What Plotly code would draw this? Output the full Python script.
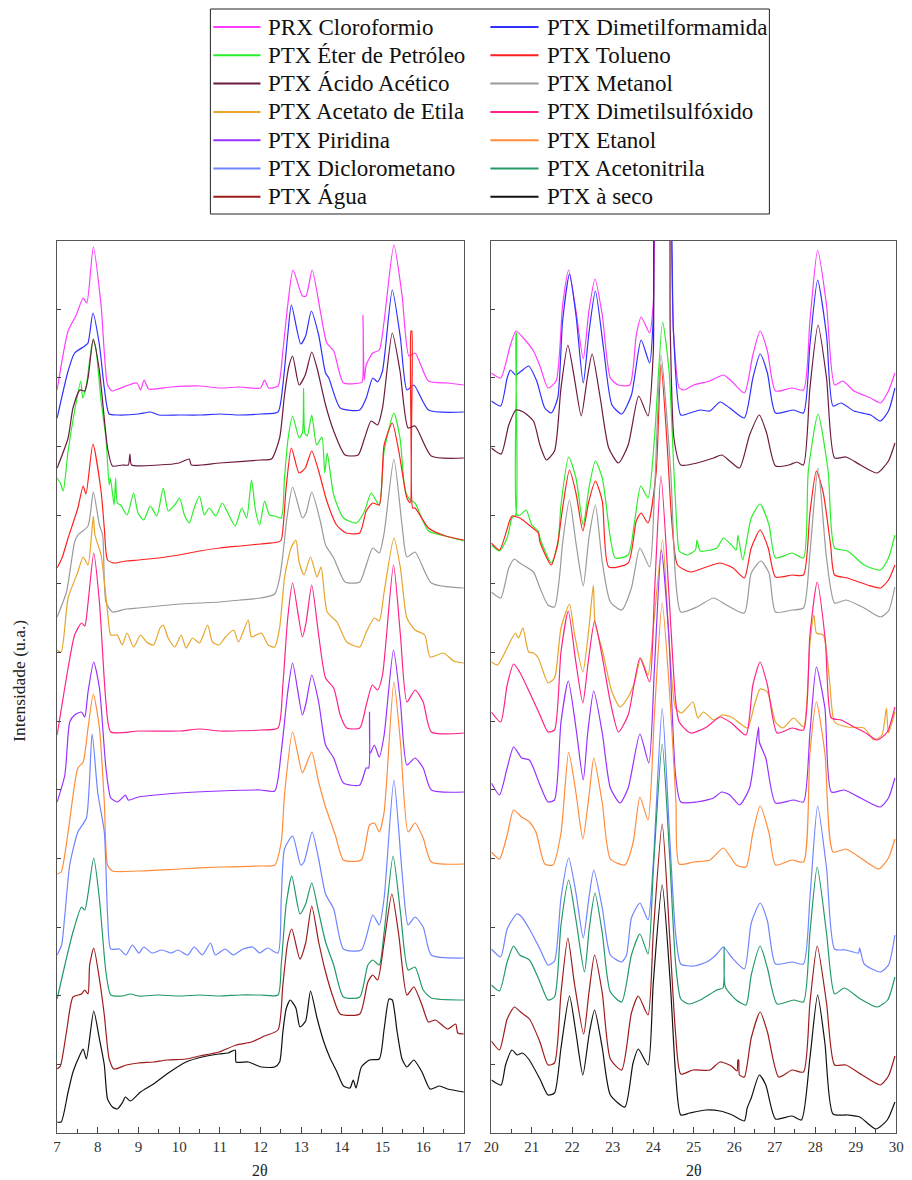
import plotly.graph_objects as go

# ---------------- series (legend order, two columns row-major) ----------------
names = ["PRX Cloroformio", "PTX Dimetilformamida",
         "PTX Éter de Petróleo", "PTX Tolueno",
         "PTX Ácido Acético", "PTX Metanol",
         "PTX Acetato de Etila", "PTX Dimetilsulfóxido",
         "PTX Piridina", "PTX Etanol",
         "PTX Diclorometano", "PTX Acetonitrila",
         "PTX Água", "PTX à seco"]
colors = ["#ff3cff", "#3030ff",
          "#2aee2a", "#ff2020",
          "#6e1a40", "#9a9a9a",
          "#e6a52a", "#ff2288",
          "#9930ff", "#ff8c3a",
          "#6f84ff", "#229966",
          "#9e1b1b", "#111111"]

# ---------------- left panel (2θ 7–17): (2θ, intensity u.a., stacked) ----------------
cloroformio_L = [(7.0,743),(7.27,802),(7.47,818),(7.64,835),(7.73,830),(7.89,886),(8.08,828),(8.24,748),(8.35,742),(8.5,744),(8.96,750),(9.05,743),(9.14,753),(9.25,744),(9.8,746),(10.5,747),(11.0,745),(11.5,746),(12.0,745),(12.1,753),(12.2,745),(12.43,747),(12.55,782),(12.67,828),(12.8,863),(13.03,837),(13.12,837),(13.27,863),(13.47,822),(13.63,790),(13.8,782),(14.04,750),(14.44,750),(14.5,751),(14.52,818),(14.55,753),(14.6,768),(14.76,780),(14.92,783),(15.04,812),(15.28,888),(15.48,838),(15.65,777),(15.8,780),(16.13,752),(16.6,750),(17.0,748)]
dimetilformamida_L = [(7.0,715),(7.27,762),(7.43,780),(7.68,787),(7.76,790),(7.88,820),(8.04,788),(8.16,745),(8.28,719),(8.5,718),(9.0,719),(9.3,721),(9.5,718),(10.0,718),(10.5,718),(11.0,719),(11.5,718),(12.0,719),(12.43,721),(12.55,748),(12.67,798),(12.76,828),(12.99,789),(13.11,797),(13.25,822),(13.43,798),(13.6,760),(13.68,755),(13.96,725),(14.44,723),(14.6,735),(14.76,755),(14.88,751),(15.0,762),(15.24,843),(15.44,795),(15.6,743),(15.77,748),(16.13,723),(17.0,721)]
eter_L = [(7.0,655),(7.08,650),(7.15,642),(7.27,682),(7.43,722),(7.58,752),(7.63,735),(7.72,748),(7.88,793),(7.95,785),(8.08,732),(8.2,695),(8.28,648),(8.31,655),(8.4,628),(8.44,655),(8.48,630),(8.56,628),(8.72,618),(8.88,640),(8.99,620),(9.13,613),(9.29,627),(9.45,617),(9.61,645),(9.73,622),(9.89,628),(10.01,635),(10.13,618),(10.25,610),(10.37,625),(10.5,637),(10.62,618),(10.74,625),(10.9,617),(11.06,630),(11.22,618),(11.38,607),(11.54,625),(11.66,615),(11.78,653),(11.88,622),(11.98,608),(12.1,632),(12.22,618),(12.35,617),(12.51,615),(12.59,655),(12.68,695),(12.79,717),(12.95,695),(13.03,700),(13.06,745),(13.09,700),(13.15,697),(13.26,718),(13.38,688),(13.51,696),(13.58,660),(13.64,680),(13.8,638),(14.04,615),(14.36,610),(14.56,622),(14.72,640),(14.92,628),(15.04,682),(15.28,720),(15.43,695),(15.56,642),(15.68,633),(15.8,630),(16.13,602),(16.55,597),(17.0,592)]
tolueno_L = [(7.0,565),(7.12,575),(7.27,595),(7.51,625),(7.64,647),(7.71,639),(7.88,689),(8.08,642),(8.16,605),(8.24,573),(8.4,570),(8.7,572),(9.0,573),(9.5,575),(10.0,578),(10.5,582),(11.0,585),(11.5,587),(12.0,589),(12.43,591),(12.51,593),(12.63,645),(12.76,685),(12.95,660),(13.1,665),(13.26,682),(13.43,662),(13.63,632),(13.87,608),(14.1,600),(14.44,600),(14.6,622),(14.76,630),(14.92,628),(15.04,688),(15.24,710),(15.4,682),(15.6,635),(15.68,630),(15.7,802),(15.72,802),(15.74,625),(15.8,625),(16.13,605),(16.55,597),(17.0,593)]
acetico_L = [(7.0,665),(7.27,695),(7.39,725),(7.56,743),(7.68,742),(7.76,755),(7.89,794),(8.04,762),(8.24,685),(8.36,667),(8.6,668),(8.75,668),(8.79,679),(8.83,668),(9.5,668),(10.0,670),(10.25,674),(10.3,668),(11.0,670),(12.0,673),(12.27,674),(12.47,695),(12.59,738),(12.7,767),(12.79,777),(12.95,748),(13.1,758),(13.26,781),(13.39,765),(13.6,728),(13.8,702),(14.08,678),(14.4,678),(14.56,695),(14.72,712),(14.88,708),(15.0,725),(15.24,800),(15.43,762),(15.63,705),(15.8,707),(16.2,677),(17.0,675)]
metanol_L = [(7.0,516),(7.23,541),(7.43,591),(7.51,598),(7.76,607),(7.89,641),(8.04,608),(8.12,598),(8.2,531),(8.36,521),(8.7,524),(9.0,525),(9.5,527),(10.0,529),(10.5,530),(11.0,531),(11.5,533),(12.0,535),(12.35,539),(12.47,555),(12.55,578),(12.65,615),(12.79,646),(13.03,615),(13.12,620),(13.26,641),(13.47,612),(13.6,588),(13.8,575),(14.08,551),(14.44,551),(14.6,568),(14.76,585),(14.92,580),(15.04,600),(15.28,674),(15.48,608),(15.6,576),(15.8,581),(16.2,550),(17.0,545)]
acetato_L = [(7.0,483),(7.1,481),(7.27,535),(7.51,561),(7.64,576),(7.76,568),(7.85,600),(7.89,617),(7.93,598),(8.08,578),(8.24,521),(8.32,498),(8.48,498),(8.6,488),(8.72,500),(8.88,486),(9.05,498),(9.2,491),(9.37,488),(9.53,505),(9.61,508),(9.73,495),(9.89,486),(10.05,498),(10.17,485),(10.33,495),(10.5,490),(10.7,508),(10.82,491),(10.98,488),(11.14,496),(11.34,503),(11.46,491),(11.7,513),(11.78,496),(12.02,500),(12.19,488),(12.35,486),(12.47,505),(12.59,555),(12.75,585),(12.87,593),(12.95,571),(13.07,558),(13.23,576),(13.39,556),(13.49,566),(13.64,521),(13.88,511),(14.12,491),(14.44,486),(14.6,501),(14.8,515),(14.92,512),(15.04,541),(15.28,595),(15.44,565),(15.6,515),(15.8,503),(16.04,498),(16.17,476),(16.5,480),(16.75,472),(17.0,470)]
dmso_L = [(7.0,398),(7.27,465),(7.43,498),(7.6,510),(7.68,507),(7.76,530),(7.9,580),(8.04,531),(8.2,431),(8.32,401),(9.0,402),(10.0,402),(10.5,404),(11.0,402),(12.0,403),(12.43,405),(12.55,448),(12.67,515),(12.79,550),(13.03,496),(13.12,510),(13.26,548),(13.43,498),(13.6,455),(13.8,445),(13.96,418),(14.12,405),(14.44,405),(14.6,428),(14.75,448),(14.88,443),(15.0,458),(15.27,568),(15.44,498),(15.6,431),(15.8,443),(16.0,431),(16.2,401),(17.0,400)]
piridina_L = [(7.0,331),(7.19,358),(7.31,411),(7.43,418),(7.6,421),(7.68,416),(7.76,441),(7.9,471),(8.04,445),(8.2,365),(8.32,335),(8.48,331),(8.6,335),(8.68,338),(8.75,333),(9.0,336),(10.0,340),(11.0,342),(12.0,343),(12.35,342),(12.51,381),(12.67,441),(12.79,470),(13.03,418),(13.12,430),(13.26,458),(13.43,431),(13.6,388),(13.8,375),(14.04,350),(14.44,348),(14.6,365),(14.66,365),(14.68,421),(14.7,380),(14.8,388),(14.92,376),(15.04,398),(15.27,483),(15.44,431),(15.6,368),(15.8,375),(16.0,365),(16.2,343),(17.0,341)]
etanol_L = [(7.0,259),(7.1,261),(7.27,301),(7.51,365),(7.64,371),(7.76,405),(7.89,439),(8.04,405),(8.16,331),(8.24,268),(8.36,262),(9.0,262),(10.0,264),(11.0,266),(12.0,267),(12.35,268),(12.51,291),(12.59,338),(12.79,401),(13.03,360),(13.12,368),(13.26,381),(13.43,351),(13.6,326),(13.84,298),(14.04,273),(14.48,273),(14.68,308),(14.8,310),(14.92,301),(15.04,321),(15.28,451),(15.44,391),(15.63,301),(15.8,310),(16.0,295),(16.2,271),(17.0,269)]
dicloro_L = [(7.0,178),(7.11,188),(7.19,218),(7.31,268),(7.51,301),(7.72,315),(7.86,399),(8.0,340),(8.16,301),(8.24,218),(8.32,184),(8.53,184),(8.69,178),(8.85,188),(9.01,180),(9.13,186),(9.33,180),(9.57,183),(9.81,180),(9.97,183),(10.21,178),(10.37,186),(10.57,178),(10.77,190),(10.89,178),(11.13,184),(11.33,178),(11.57,184),(11.81,186),(11.98,180),(12.17,185),(12.43,180),(12.51,234),(12.59,284),(12.79,297),(12.99,268),(13.07,271),(13.27,301),(13.43,274),(13.6,239),(13.8,224),(14.04,184),(14.48,183),(14.76,218),(14.92,208),(15.04,235),(15.28,353),(15.48,261),(15.63,208),(15.8,216),(16.0,206),(16.2,178),(17.0,175)]
acetonitrila_L = [(7.0,134),(7.19,168),(7.39,201),(7.6,226),(7.68,223),(7.76,239),(7.9,275),(8.04,234),(8.2,161),(8.32,138),(8.6,137),(8.8,139),(9.0,137),(9.5,138),(10.0,137),(10.5,138),(11.0,137),(11.5,138),(12.0,138),(12.43,138),(12.51,168),(12.63,228),(12.77,257),(12.97,219),(13.11,229),(13.26,250),(13.43,221),(13.6,191),(13.8,168),(14.04,136),(14.44,136),(14.64,168),(14.76,173),(14.92,168),(15.04,201),(15.26,277),(15.44,221),(15.63,163),(15.8,166),(16.0,143),(16.2,135),(17.0,133)]
agua_L = [(7.0,64),(7.08,67),(7.23,101),(7.39,136),(7.6,139),(7.68,143),(7.76,139),(7.8,168),(7.9,185),(8.04,154),(8.16,118),(8.28,74),(8.4,64),(8.7,68),(9.0,70),(9.37,71),(9.7,73),(10.17,74),(10.5,77),(10.98,81),(11.4,88),(11.78,91),(12.1,97),(12.43,103),(12.55,148),(12.67,191),(12.77,204),(12.97,174),(13.11,190),(13.26,227),(13.43,191),(13.6,161),(13.8,134),(13.96,119),(14.44,119),(14.64,151),(14.76,158),(14.88,153),(15.04,191),(15.23,239),(15.4,198),(15.6,138),(15.77,146),(15.97,128),(16.13,111),(16.3,113),(16.6,104),(16.8,109),(16.85,100),(17.0,99)]
seco_L = [(7.0,11),(7.1,11),(7.27,41),(7.39,61),(7.56,78),(7.64,84),(7.72,74),(7.9,122),(8.04,94),(8.16,68),(8.24,34),(8.36,26),(8.48,24),(8.6,30),(8.68,36),(8.8,32),(9.05,41),(9.37,49),(9.77,61),(10.17,71),(10.57,76),(10.98,79),(11.2,80),(11.38,83),(11.4,71),(11.7,71),(12.02,66),(12.35,66),(12.47,71),(12.55,101),(12.63,124),(12.73,133),(12.87,125),(12.97,106),(13.11,112),(13.23,142),(13.39,115),(13.55,92),(13.71,75),(13.87,62),(14.04,47),(14.2,45),(14.28,53),(14.35,45),(14.48,66),(14.68,73),(14.92,74),(15.04,104),(15.16,134),(15.24,133),(15.36,101),(15.48,74),(15.6,66),(15.77,73),(15.97,61),(16.17,44),(16.4,47),(16.6,44),(17.0,41)]

# ---------------- right panel (2θ 20–30) ----------------
cloroformio_R = [(20.0,760),(20.23,755),(20.47,788),(20.61,802),(20.79,795),(21.04,782),(21.2,767),(21.4,745),(21.6,752),(21.76,828),(21.91,863),(22.09,822),(22.27,774),(22.41,822),(22.56,854),(22.74,818),(22.94,755),(23.14,748),(23.42,748),(23.58,798),(23.7,816),(23.91,800),(24.0,829),(24.15,1000),(24.3,1000),(24.5,800),(24.64,745),(24.76,743),(25.0,748),(25.4,752),(25.73,758),(25.93,752),(26.25,740),(26.46,778),(26.64,802),(26.82,782),(27.02,742),(27.43,745),(27.71,743),(27.87,812),(28.06,883),(28.28,828),(28.48,748),(28.68,752),(28.96,742),(29.37,735),(29.61,730),(29.81,742),(29.97,760)]
dimetilformamida_R = [(20.0,732),(20.23,727),(20.39,755),(20.47,763),(20.6,758),(20.74,762),(20.92,767),(21.12,752),(21.32,725),(21.48,720),(21.64,735),(21.76,812),(21.93,859),(22.09,818),(22.27,750),(22.41,800),(22.57,842),(22.77,785),(22.98,728),(23.22,719),(23.46,738),(23.7,793),(23.91,770),(24.0,815),(24.12,1000),(24.32,1000),(24.5,800),(24.68,718),(24.9,720),(25.16,723),(25.4,722),(25.65,731),(25.89,725),(26.25,715),(26.46,755),(26.64,779),(26.82,760),(27.02,720),(27.47,723),(27.71,720),(27.87,788),(28.06,853),(28.28,798),(28.44,727),(28.64,730),(28.96,722),(29.37,718),(29.61,712),(29.81,722),(29.97,745)]
eter_R = [(20.0,588),(20.2,582),(20.39,595),(20.51,615),(20.6,618),(20.61,800),(20.62,800),(20.63,618),(20.71,618),(20.86,623),(21.0,608),(21.16,602),(21.2,595),(21.48,570),(21.64,588),(21.72,628),(21.91,676),(22.09,655),(22.27,608),(22.41,645),(22.57,672),(22.74,655),(22.94,595),(23.06,575),(23.38,578),(23.54,612),(23.69,647),(23.87,635),(24.03,695),(24.23,811),(24.39,762),(24.51,662),(24.6,595),(24.64,582),(24.84,578),(25.04,583),(25.08,593),(25.16,582),(25.57,585),(25.73,595),(25.93,588),(26.05,583),(26.09,598),(26.21,573),(26.42,615),(26.64,629),(26.86,608),(27.02,575),(27.43,580),(27.71,575),(27.83,662),(28.07,719),(28.32,662),(28.48,585),(28.8,582),(29.21,568),(29.61,563),(29.81,575),(29.97,598)]
tolueno_R = [(20.0,590),(20.2,583),(20.45,612),(20.51,617),(20.7,615),(20.96,607),(21.16,600),(21.2,591),(21.48,568),(21.64,590),(21.76,625),(21.93,663),(22.09,640),(22.26,602),(22.41,632),(22.57,652),(22.74,632),(22.9,566),(23.38,570),(23.58,612),(23.7,620),(23.87,610),(24.07,660),(24.19,769),(24.34,690),(24.46,610),(24.6,568),(24.92,561),(25.24,565),(25.65,570),(25.97,565),(26.25,555),(26.42,585),(26.64,603),(26.84,585),(27.02,556),(27.43,558),(27.71,558),(27.87,620),(28.03,662),(28.2,640),(28.38,588),(28.48,558),(28.8,555),(29.29,548),(29.61,545),(29.81,553),(29.97,568)]
acetico_R = [(20.0,685),(20.24,679),(20.43,708),(20.61,723),(20.79,721),(21.04,712),(21.2,688),(21.36,673),(21.56,682),(21.72,745),(21.89,788),(22.05,755),(22.22,717),(22.37,755),(22.49,779),(22.69,735),(22.9,685),(23.14,670),(23.38,688),(23.64,737),(23.87,717),(24.0,780),(24.12,1000),(24.3,1000),(24.42,800),(24.51,695),(24.68,668),(25.08,670),(25.49,675),(25.69,678),(25.89,672),(26.13,665),(26.38,698),(26.62,718),(26.8,700),(27.02,667),(27.35,668),(27.55,671),(27.71,668),(27.87,745),(28.07,808),(28.28,755),(28.48,675),(28.76,676),(29.12,668),(29.53,660),(29.81,672),(29.97,690)]
metanol_R = [(20.0,541),(20.23,535),(20.43,565),(20.57,574),(20.7,570),(21.04,561),(21.2,545),(21.4,528),(21.56,526),(21.68,555),(21.76,590),(21.93,633),(22.09,590),(22.27,547),(22.41,595),(22.57,628),(22.74,571),(22.94,531),(23.22,523),(23.46,545),(23.67,585),(23.91,566),(24.03,640),(24.19,778),(24.43,662),(24.55,555),(24.68,521),(25.08,526),(25.49,535),(25.81,528),(26.25,520),(26.42,560),(26.66,572),(26.86,560),(27.02,521),(27.43,523),(27.71,525),(27.87,580),(28.07,665),(28.28,575),(28.48,530),(28.76,533),(29.21,525),(29.61,516),(29.81,522),(29.97,546)]
acetato_R = [(20.0,471),(20.15,468),(20.39,485),(20.59,500),(20.67,495),(20.78,505),(20.92,481),(21.04,480),(21.16,475),(21.4,450),(21.56,455),(21.72,505),(21.93,529),(22.05,500),(22.26,461),(22.41,505),(22.52,548),(22.56,510),(22.74,483),(22.98,441),(23.18,426),(23.38,436),(23.54,451),(23.69,475),(23.87,458),(24.0,505),(24.23,593),(24.38,500),(24.55,425),(24.7,420),(24.98,431),(25.1,415),(25.24,421),(25.49,413),(25.7,418),(25.93,416),(26.13,410),(26.33,405),(26.5,428),(26.64,444),(26.82,441),(27.02,411),(27.2,405),(27.47,415),(27.71,406),(27.87,490),(27.97,518),(28.03,500),(28.2,498),(28.36,450),(28.48,411),(28.8,406),(29.21,405),(29.45,393),(29.65,398),(29.76,425),(29.81,400),(29.97,421)]
dmso_R = [(20.0,421),(20.23,411),(20.39,448),(20.55,469),(20.7,461),(20.94,441),(21.2,418),(21.4,401),(21.56,403),(21.72,481),(21.9,522),(22.09,470),(22.26,430),(22.39,470),(22.55,512),(22.74,476),(22.94,431),(23.14,401),(23.38,418),(23.67,475),(23.91,451),(24.03,540),(24.19,657),(24.4,530),(24.55,433),(24.64,411),(24.92,400),(25.32,406),(25.65,416),(25.93,410),(26.29,398),(26.46,448),(26.64,471),(26.82,448),(27.06,400),(27.43,405),(27.71,403),(27.87,498),(28.05,551),(28.25,493),(28.4,415),(28.64,413),(28.96,406),(29.21,401),(29.53,393),(29.78,401),(29.97,426)]
piridina_R = [(20.0,350),(20.2,338),(20.39,365),(20.55,386),(20.75,375),(20.94,373),(21.2,348),(21.4,331),(21.56,333),(21.72,411),(21.9,452),(22.09,405),(22.27,353),(22.38,400),(22.53,442),(22.74,400),(22.94,345),(23.18,330),(23.38,345),(23.67,399),(23.89,370),(24.03,466),(24.2,583),(24.38,500),(24.55,358),(24.68,331),(25.08,331),(25.49,335),(25.69,341),(25.89,338),(26.13,328),(26.38,345),(26.6,406),(26.62,391),(26.78,375),(27.02,330),(27.47,333),(27.71,331),(27.87,400),(28.03,466),(28.24,425),(28.4,341),(28.72,343),(29.12,335),(29.61,326),(29.81,335),(29.97,355)]
etanol_R = [(20.0,281),(20.2,274),(20.39,298),(20.55,323),(20.75,316),(20.94,311),(21.1,301),(21.32,269),(21.52,268),(21.72,300),(21.91,381),(22.09,340),(22.26,294),(22.42,340),(22.53,375),(22.74,330),(22.94,274),(23.3,268),(23.5,290),(23.67,336),(23.87,313),(24.03,420),(24.22,530),(24.42,430),(24.56,330),(24.64,269),(25.0,271),(25.4,273),(25.73,285),(26.05,268),(26.29,266),(26.46,300),(26.64,327),(26.86,300),(27.02,268),(27.43,273),(27.71,271),(27.87,380),(28.03,431),(28.24,380),(28.44,281),(28.76,284),(29.16,274),(29.57,264),(29.81,275),(29.97,294)]
dicloro_R = [(20.0,184),(20.23,176),(20.39,204),(20.63,219),(20.75,216),(20.94,204),(21.2,184),(21.4,168),(21.56,172),(21.72,235),(21.91,275),(22.09,240),(22.27,195),(22.41,235),(22.53,263),(22.74,225),(22.94,178),(23.22,171),(23.34,178),(23.46,215),(23.67,230),(23.87,213),(24.0,270),(24.22,425),(24.4,300),(24.55,200),(24.68,169),(25.0,167),(25.32,171),(25.55,178),(25.73,186),(25.93,176),(26.25,164),(26.42,210),(26.64,230),(26.82,212),(27.02,169),(27.43,171),(27.71,169),(27.87,235),(28.06,327),(28.28,265),(28.48,184),(28.76,183),(29.07,180),(29.1,185),(29.21,169),(29.61,161),(29.81,168),(29.97,198)]
acetonitrila_R = [(20.0,148),(20.2,142),(20.39,171),(20.55,187),(20.7,178),(20.94,173),(21.2,151),(21.4,133),(21.56,136),(21.72,208),(21.91,253),(22.09,213),(22.3,161),(22.42,205),(22.56,240),(22.74,200),(22.94,141),(23.22,131),(23.46,178),(23.67,199),(23.87,179),(24.0,262),(24.22,389),(24.4,280),(24.55,170),(24.68,134),(24.88,129),(25.16,133),(25.57,143),(25.72,145),(25.75,186),(25.78,146),(26.05,133),(26.29,128),(26.42,158),(26.64,187),(26.82,165),(27.06,129),(27.47,133),(27.71,131),(27.87,200),(28.05,266),(28.28,200),(28.48,139),(28.72,145),(29.12,134),(29.53,126),(29.79,133),(29.97,156)]
agua_R = [(20.0,92),(20.2,83),(20.39,114),(20.57,126),(20.72,121),(20.94,114),(21.2,91),(21.4,68),(21.56,70),(21.72,140),(21.89,195),(22.05,150),(22.28,99),(22.41,140),(22.55,178),(22.74,140),(22.94,74),(23.22,63),(23.46,120),(23.63,137),(23.87,118),(24.0,200),(24.22,309),(24.4,200),(24.55,100),(24.68,59),(24.98,63),(25.4,63),(25.65,71),(25.93,67),(26.07,62),(26.09,73),(26.11,73),(26.13,58),(26.25,56),(26.42,95),(26.64,121),(26.82,101),(27.1,56),(27.43,63),(27.71,61),(27.87,130),(28.05,187),(28.28,130),(28.48,68),(28.76,68),(29.16,58),(29.61,48),(29.81,57),(29.97,77)]
seco_R = [(20.0,53),(20.24,48),(20.35,68),(20.51,83),(20.64,78),(20.76,80),(20.92,74),(21.2,54),(21.4,38),(21.56,40),(21.72,85),(21.93,137),(22.09,100),(22.26,58),(22.42,100),(22.55,123),(22.74,85),(22.94,38),(23.3,26),(23.5,70),(23.63,84),(23.87,68),(24.0,150),(24.22,248),(24.42,150),(24.55,60),(24.68,18),(24.9,20),(25.3,23),(25.65,22),(25.95,18),(26.25,12),(26.32,25),(26.42,35),(26.62,58),(26.78,48),(27.02,14),(27.43,17),(27.66,13),(27.87,75),(28.06,138),(28.24,90),(28.44,19),(28.8,18),(29.1,16),(29.5,4),(29.78,13),(29.97,31)]

left_data = [cloroformio_L, dimetilformamida_L, eter_L, tolueno_L, acetico_L, metanol_L,
             acetato_L, dmso_L, piridina_L, etanol_L, dicloro_L, acetonitrila_L, agua_L, seco_L]
right_data = [cloroformio_R, dimetilformamida_R, eter_R, tolueno_R, acetico_R, metanol_R,
              acetato_R, dmso_R, piridina_R, etanol_R, dicloro_R, acetonitrila_R, agua_R, seco_R]

x_title = "2θ"
y_title = "Intensidade (u.a.)"

FONT = "'Liberation Serif', 'Times New Roman', Tinos, 'DejaVu Serif', serif"
W, H = 912, 1180

fig = go.Figure()
for name, col, dl, dr in zip(names, colors, left_data, right_data):
    fig.add_trace(go.Scatter(x=[p[0] for p in dl], y=[p[1] for p in dl], mode="lines",
                             name=name, line=dict(color=col, width=1.2, shape="spline", smoothing=0.6),
                             xaxis="x", yaxis="y", showlegend=False))
    fig.add_trace(go.Scatter(x=[p[0] for p in dr], y=[p[1] for p in dr], mode="lines",
                             name=name, line=dict(color=col, width=1.2, shape="spline", smoothing=0.6),
                             xaxis="x2", yaxis="y2", showlegend=False))

top_px, bot_px = 241, 1133
ydom = [1 - bot_px / H, 1 - top_px / H]

def xax(dom, rng):
    return dict(domain=dom, range=rng, dtick=1, tick0=0, ticks="inside", ticklen=6,
                tickcolor="#444", showline=True, linecolor="#555", linewidth=1, mirror=True,
                showgrid=False, zeroline=False,
                tickfont=dict(family=FONT, size=15, color="#333"),
                minor=dict(dtick=0.5, ticks="inside", ticklen=4, tickcolor="#444", showgrid=False))

def yax(anchor):
    return dict(domain=ydom, range=[0, 892], tick0=0, dtick=68.65, ticks="inside", ticklen=4,
                tickcolor="#444", showticklabels=False, showline=True, linecolor="#555",
                linewidth=1, mirror=True, showgrid=False, zeroline=False, anchor=anchor)

fig.update_layout(
    width=W, height=H, margin=dict(l=0, r=0, t=0, b=0),
    paper_bgcolor="white", plot_bgcolor="white", showlegend=False,
    font=dict(family=FONT),
    xaxis=dict(xax([50 / W, 464 / W], [7, 17]), anchor="y"),
    yaxis=yax("x"),
    xaxis2=dict(xax([492 / W, 904 / W], [20, 30]), anchor="y2"),
    yaxis2=yax("x2"),
)

annots = [
    dict(text=x_title, x=257 / W, y=1 - 1170 / H, xref="paper", yref="paper",
         showarrow=False, font=dict(family=FONT, size=16, color="#222"), xanchor="center", yanchor="middle"),
    dict(text=x_title, x=698 / W, y=1 - 1170 / H, xref="paper", yref="paper",
         showarrow=False, font=dict(family=FONT, size=16, color="#222"), xanchor="center", yanchor="middle"),
    dict(text=y_title, x=11 / W, y=1 - 681 / H, xref="paper", yref="paper", textangle=-90,
         showarrow=False, font=dict(family=FONT, size=17.5, color="#222"), xanchor="center", yanchor="middle"),
]
shapes = [dict(type="rect", xref="paper", yref="paper", x0=206 / W, x1=775 / W,
               y0=1 - 214 / H, y1=1 - 9 / H, line=dict(color="#222", width=1), fillcolor="white", layer="below")]

# manual two-column legend
col_line = [(209, 257), (491, 540)]
col_text = [263, 547]
for i, (name, col) in enumerate(zip(names, colors)):
    c, r = i % 2, i // 2
    yp = 27 + r * 28.3
    shapes.append(dict(type="line", xref="paper", yref="paper",
                       x0=col_line[c][0] / W, x1=col_line[c][1] / W,
                       y0=1 - yp / H, y1=1 - yp / H, line=dict(color=col, width=2)))
    annots.append(dict(text=name, x=col_text[c] / W, y=1 - yp / H, xref="paper", yref="paper",
                       showarrow=False, xanchor="left", yanchor="middle",
                       font=dict(family=FONT, size=23, color="#111")))

fig.update_layout(annotations=annots, shapes=shapes)
fig.write_html("out.html")
